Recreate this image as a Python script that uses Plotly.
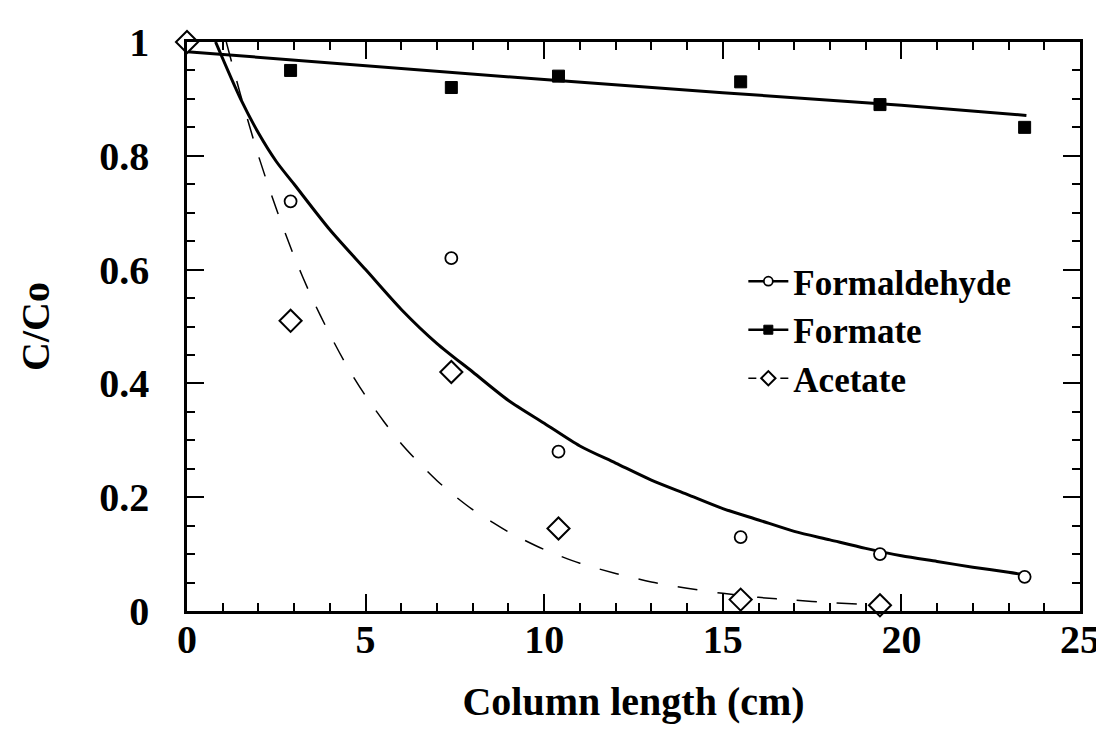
import plotly.graph_objects as go

# Measured data points
form_ald_x = [2.9, 7.4, 10.4, 15.5, 19.4, 23.45]
form_ald_y = [0.72, 0.62, 0.28, 0.13, 0.10, 0.06]

formate_x = [2.9, 7.4, 10.4, 15.5, 19.4, 23.45]
formate_y = [0.95, 0.92, 0.94, 0.93, 0.89, 0.85]

acetate_x = [0.0, 2.9, 7.4, 10.4, 15.5, 19.4]
acetate_y = [1.0, 0.51, 0.42, 0.145, 0.02, 0.01]

# Fitted curves
fit_ald_x = [0.8, 1.5, 2, 2.5, 3, 4, 5, 6, 7, 8, 9, 10, 11, 12, 13, 14, 15, 16,
             17, 18, 19, 20, 21, 22, 23, 23.5]
fit_ald_y = [1.0, 0.90, 0.84, 0.79, 0.75, 0.67, 0.60, 0.53, 0.47, 0.42, 0.37, 0.33,
             0.29, 0.26, 0.23, 0.205, 0.18, 0.16, 0.14, 0.125, 0.11, 0.097, 0.087,
             0.077, 0.068, 0.063]

fit_formate_x = [0, 5, 10, 15, 20, 23.5]
fit_formate_y = [0.983, 0.958, 0.934, 0.911, 0.889, 0.871]

fit_acetate_x = [1.1, 1.5, 2, 2.5, 3, 3.5, 4, 4.5, 5, 5.5, 6, 6.5, 7, 7.5, 8, 8.5,
                 9, 10, 11, 12, 13, 14, 15, 16, 17, 18, 19, 19.5]
fit_acetate_y = [1.0, 0.907, 0.80, 0.707, 0.623, 0.55, 0.486, 0.428, 0.378, 0.334,
                 0.294, 0.26, 0.229, 0.202, 0.178, 0.158, 0.139, 0.108, 0.084, 0.066,
                 0.051, 0.040, 0.031, 0.024, 0.019, 0.0147, 0.0114, 0.010]

series_names = ["Formaldehyde", "Formate", "Acetate"]

FONT = "Liberation Serif"
BLACK = "black"

fig = go.Figure()

# curves
fig.add_trace(go.Scatter(x=fit_ald_x, y=fit_ald_y, mode="lines",
                         line=dict(color=BLACK, width=3, shape="spline", smoothing=0.8),
                         showlegend=False, hoverinfo="skip"))
fig.add_trace(go.Scatter(x=fit_formate_x, y=fit_formate_y, mode="lines",
                         line=dict(color=BLACK, width=3), showlegend=False,
                         hoverinfo="skip"))
fig.add_trace(go.Scatter(x=fit_acetate_x, y=fit_acetate_y, mode="lines",
                         line=dict(color=BLACK, width=1.5, dash="20px,20px",
                                   shape="spline", smoothing=0.8),
                         showlegend=False, hoverinfo="skip"))

circle = dict(symbol="circle", size=12, color="white", line=dict(color=BLACK, width=1.8))
square = dict(symbol="square", size=12, color=BLACK, line=dict(color=BLACK, width=1))
diamond = dict(symbol="diamond", size=17, color="white", line=dict(color=BLACK, width=2))

# points
fig.add_trace(go.Scatter(x=form_ald_x, y=form_ald_y, mode="markers", marker=circle,
                         showlegend=False, cliponaxis=False))
fig.add_trace(go.Scatter(x=formate_x, y=formate_y, mode="markers", marker=square,
                         showlegend=False, cliponaxis=False))
fig.add_trace(go.Scatter(x=acetate_x, y=acetate_y, mode="markers", marker=diamond,
                         showlegend=False, cliponaxis=False))

# legend entries
fig.add_trace(go.Scatter(x=[None], y=[None], mode="lines+markers", name=series_names[0],
                         line=dict(color=BLACK, width=2.5), marker=dict(circle, size=9)))
fig.add_trace(go.Scatter(x=[None], y=[None], mode="lines+markers", name=series_names[1],
                         line=dict(color=BLACK, width=2.5), marker=dict(square, size=9)))
fig.add_trace(go.Scatter(x=[None], y=[None], mode="lines+markers", name=series_names[2],
                         line=dict(color=BLACK, width=1.5, dash="8px,8px"),
                         marker=dict(diamond, size=11)))

tickfont = dict(family=FONT, size=40, color=BLACK, weight="bold")
titlefont = dict(family=FONT, size=40, color=BLACK, weight="bold")

fig.update_layout(
    width=1104, height=744, autosize=False,
    margin=dict(l=179, r=30, t=25, b=141),
    paper_bgcolor="white", plot_bgcolor="white",
    font=dict(family=FONT, color=BLACK),
    showlegend=True,
    legend=dict(x=0.623, y=0.631, xanchor="left", yanchor="top",
                font=dict(family=FONT, size=35, color=BLACK, weight="bold"),
                bgcolor="rgba(0,0,0,0)", borderwidth=0, tracegroupgap=0,
                itemwidth=40),
    xaxis=dict(range=[0, 25], tickmode="linear", tick0=0, dtick=5,
               ticks="inside", ticklen=17, tickwidth=2, tickcolor=BLACK,
               minor=dict(ticks="inside", ticklen=8, tickwidth=1.5, dtick=1,
                          tickcolor=BLACK),
               showline=True, linecolor=BLACK, linewidth=2.5, mirror="ticks",
               showgrid=False, zeroline=False, tickfont=tickfont,
               ticklabelstandoff=-9,
               title=dict(text="Column length (cm)", standoff=27, font=titlefont)),
    yaxis=dict(range=[0, 1], tickmode="linear", tick0=0, dtick=0.2,
               ticks="inside", ticklen=17, tickwidth=2, tickcolor=BLACK,
               minor=dict(ticks="inside", ticklen=8, tickwidth=1.5, dtick=0.05,
                          tickcolor=BLACK),
               showline=True, linecolor=BLACK, linewidth=2.5, mirror="ticks",
               showgrid=False, zeroline=False, tickfont=tickfont,
               ticklabelstandoff=27,
               title=dict(text="C/Co", standoff=38, font=titlefont)),
)

fig.write_html("out.html")
